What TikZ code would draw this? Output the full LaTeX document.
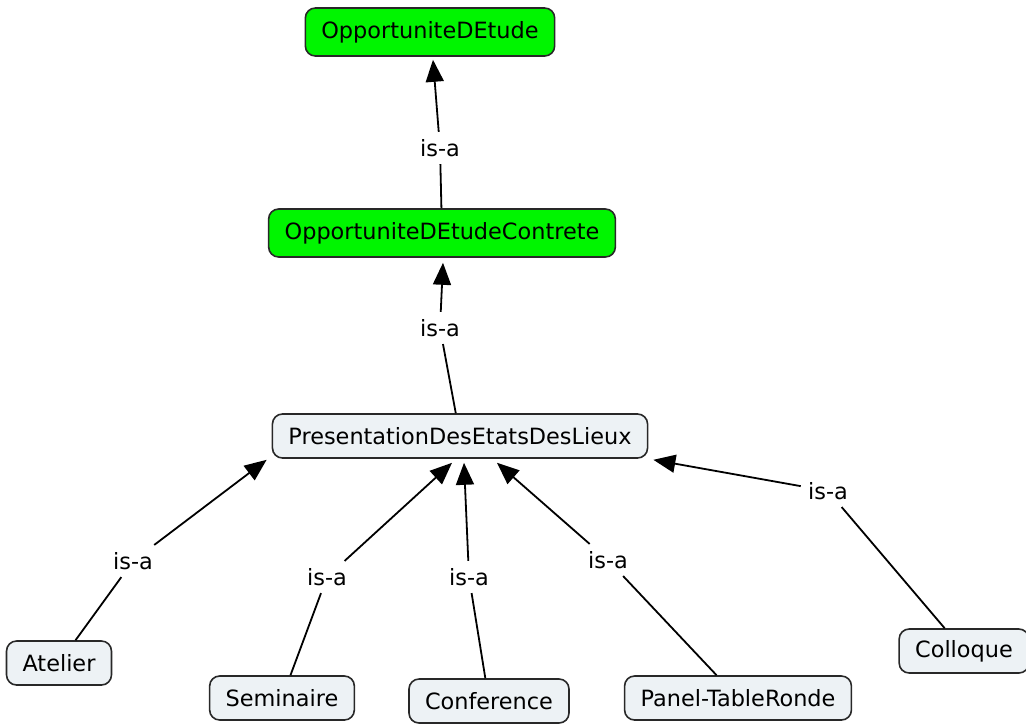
\documentclass[tikz,border=0pt]{standalone}
\usepackage{fontspec}
\setmainfont{DejaVu Sans}
\usetikzlibrary{arrows.meta,positioning}
\definecolor{conceptgreen}{RGB}{0,245,0}
\definecolor{conceptgray}{RGB}{237,242,245}
\definecolor{conceptline}{RGB}{40,40,40}

\begin{document}
\begin{tikzpicture}[x=0.5pt, y=-0.5pt,
    concept/.style={draw=conceptline, line width=0.8pt, rounded corners=5pt, fill=conceptgray,
      minimum height=22pt, inner xsep=8pt, font=\fontsize{11.2}{13}\selectfont},
    parentconcept/.style={concept, fill=conceptgreen, minimum height=24pt},
    isalabel/.style={inner sep=3.5pt, font=\fontsize{11.2}{13}\selectfont},
    isa/.style={line width=0.9pt, -{Triangle[length=11pt, width=9pt]}}]
  \useasboundingbox (0,0) rectangle (1026,723);

  \node[parentconcept] (etude) at (430,32) {OpportuniteDEtude};
  \node[parentconcept] (contrete) at (442,233) {OpportuniteDEtudeContrete};
  \node[concept] (presentation) at (460,436) {PresentationDesEtatsDesLieux};
  \node[concept] (atelier) at (59,663) {Atelier};
  \node[concept] (seminaire) at (282,698) {Seminaire};
  \node[concept] (conference) at (489,701) {Conference};
  \node[concept] (panel) at (738,698) {Panel-TableRonde};
  \node[concept] (colloque) at (964,651) {Colloque};

  \node[isalabel] (isaContrete) at (440,148) {is-a};
  \node[isalabel] (isaPresentation) at (440,328) {is-a};
  \node[isalabel] (isaAtelier) at (133,561) {is-a};
  \node[isalabel] (isaSeminaire) at (327,577) {is-a};
  \node[isalabel] (isaConference) at (469,577) {is-a};
  \node[isalabel] (isaPanel) at (608,560) {is-a};
  \node[isalabel] (isaColloque) at (828,491) {is-a};

  \draw[line width=0.9pt] (contrete) -- (isaContrete);
  \draw[isa] (isaContrete) -- ([xshift=1.5pt, yshift=-1.5pt]etude.south);
  \draw[line width=0.9pt] (presentation) -- (isaPresentation);
  \draw[isa] (isaPresentation) -- ([xshift=0.5pt, yshift=-2.5pt]contrete.south);

  \draw[line width=0.9pt] (atelier) -- (isaAtelier);
  \draw[isa] (isaAtelier) -- ([xshift=-2.5pt, yshift=-0.5pt]presentation.south west);
  \draw[line width=0.9pt] (seminaire) -- (isaSeminaire);
  \draw[isa] (isaSeminaire) -- ([xshift=-4pt, yshift=-2pt]presentation.south);
  \draw[line width=0.9pt] (conference) -- (isaConference);
  \draw[isa] (isaConference) -- ([xshift=2pt, yshift=-2pt]presentation.south);
  \draw[line width=0.9pt] (panel) -- (isaPanel);
  \draw[isa] (isaPanel) -- ([xshift=18.5pt, yshift=-2pt]presentation.south);
  \draw[line width=0.9pt] (colloque) -- (isaColloque);
  \draw[isa] (isaColloque) -- ([xshift=2.5pt, yshift=-0.5pt]presentation.south east);
\end{tikzpicture}
\end{document}
